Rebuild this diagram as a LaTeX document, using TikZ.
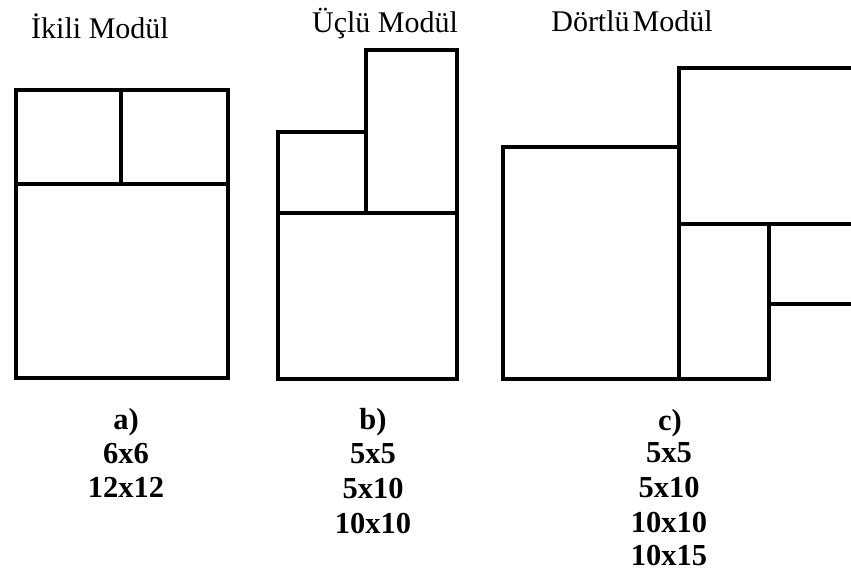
\documentclass[tikz,border=0pt]{standalone}
\usepackage{fontspec}
\setmainfont{Liberation Serif}
\begin{document}
\begin{tikzpicture}[x=1pt,y=-1pt,
  wall/.style={line width=4.6pt,line join=miter,line cap=rect},
  title/.style={anchor=base,inner sep=0pt,font=\fontsize{30}{34}\selectfont},
  lab/.style={anchor=base,inner sep=0pt,font=\fontsize{30.5}{34}\selectfont\bfseries}]
\useasboundingbox[fill=white] (0,0) rectangle (851,575);
% a) Ikili
\draw[wall] (16,90) rectangle (228,378);
\draw[wall] (16,184) -- (228,184);
\draw[wall] (121,90) -- (121,184);
% b) Uclu
\draw[wall] (278,213) rectangle (457,379);
\draw[wall] (278,213) -- (278,132) -- (366,132);
\draw[wall] (366,213) -- (366,50) -- (457,50) -- (457,213);
% c) Dortlu
\draw[wall] (503,147) rectangle (679,379);
\draw[wall] (679,147) -- (679,68) -- (851,68);
\draw[wall] (679,224) -- (851,224);
\draw[wall] (679,379) -- (769,379) -- (769,224);
\draw[wall] (769,304) -- (851,304);
% titles
\node[title] (ta) at (100,39) {İkili Modül};
\node[title] (tb) at (385,33) {Üçlü Modül};
\node[title] (tc) at (632,32) {Dörtlü\hspace{0.1em}Modül};
% labels
\node[lab] (a0) at (126,429) {a)};
\node[lab] (a1) at (126,463) {6x6};
\node[lab] (a2) at (126,497) {12x12};
\node[lab] (b0) at (373,429) {b)};
\node[lab] (b1) at (373,463) {5x5};
\node[lab] (b2) at (373,498) {5x10};
\node[lab] (b3) at (373,533) {10x10};
\node[lab] (c0) at (670,430) {c)};
\node[lab] (c1) at (669,462) {5x5};
\node[lab] (c2) at (669,497) {5x10};
\node[lab] (c3) at (669,532) {10x10};
\node[lab] (c4) at (669,565) {10x15};
\end{tikzpicture}
\end{document}
